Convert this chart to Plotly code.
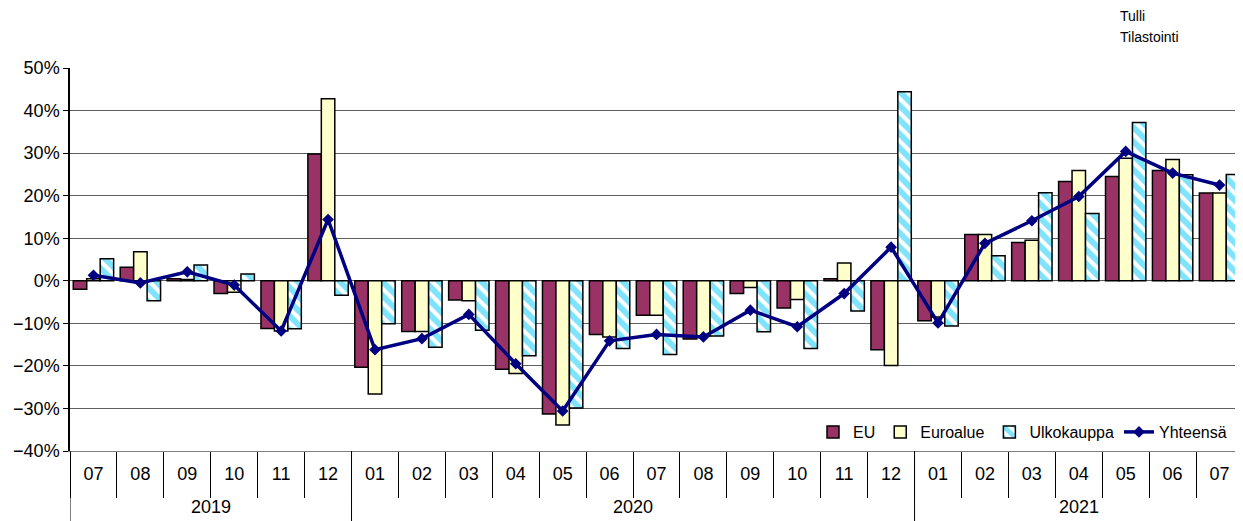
import plotly.graph_objects as go

years = ["2019"] * 6 + ["2020"] * 12 + ["2021"] * 7
months = ["07", "08", "09", "10", "11", "12",
          "01", "02", "03", "04", "05", "06", "07", "08", "09", "10", "11", "12",
          "01", "02", "03", "04", "05", "06", "07"]

eu = [-2.0, 3.2, 0.5, -3.0, -11.2, 29.8,
      -20.3, -11.9, -4.5, -20.8, -31.3, -12.6, -8.1, -13.7, -3.0, -6.4, 0.5, -16.2,
      -9.4, 10.9, 9.0, 23.3, 24.5, 25.9, 20.6]
euroalue = [0.5, 6.8, 0.3, -2.7, -11.8, 42.8,
            -26.6, -11.9, -4.7, -21.8, -33.9, -13.2, -8.1, -13.0, -1.6, -4.4, 4.2, -19.9,
            -8.5, 10.9, 9.5, 25.9, 28.8, 28.5, 20.6]
ulkokauppa = [5.2, -4.7, 3.7, 1.6, -11.3, -3.4,
              -10.1, -15.6, -11.6, -17.6, -29.9, -15.9, -17.3, -13.0, -12.0, -15.9, -7.1, 44.4,
              -10.6, 5.9, 20.7, 15.8, 37.2, 24.9, 25.0]
yhteensa = [1.3, -0.5, 2.1, -1.0, -11.8, 14.4,
            -16.2, -13.6, -7.9, -19.5, -30.6, -14.1, -12.6, -13.2, -6.9, -10.8, -3.0, 7.9,
            -9.9, 8.8, 14.1, 19.8, 30.4, 25.3, 22.5]

idx = list(range(len(months)))
outline = dict(color="black", width=1.5)
FONT = "Arial, 'Liberation Sans', sans-serif"

fig = go.Figure()
fig.add_trace(go.Bar(x=idx, y=eu, name="EU", marker=dict(color="#993366", line=outline)))
fig.add_trace(go.Bar(x=idx, y=euroalue, name="Euroalue", marker=dict(color="#FFFFCC", line=outline)))
fig.add_trace(go.Bar(x=idx, y=ulkokauppa, name="Ulkokauppa",
                     marker=dict(color="white", line=outline,
                                 pattern=dict(shape="\\", fgcolor="#00C8F8", bgcolor="white",
                                              size=10, solidity=0.6, fillmode="overlay"))))
fig.add_trace(go.Scatter(x=idx, y=yhteensa, name="Yhteensä", mode="lines+markers",
                         line=dict(color="#000080", width=3.5),
                         marker=dict(symbol="diamond", size=9, color="#000080")))

# year group labels and dividers, derived from the years list
shapes = []
annotations = []
groups = []
start = 0
for i in range(1, len(years) + 1):
    if i == len(years) or years[i] != years[start]:
        groups.append((years[start], start, i - 1))
        start = i
for yr, a, b in groups:
    annotations.append(dict(text=yr, xref="x", yref="paper", x=(a + b) / 2, y=-0.145,
                            yanchor="middle", showarrow=False, font=dict(size=18)))
    shapes.append(dict(type="line", xref="x", yref="paper", x0=a - 0.5, x1=a - 0.5,
                       y0=0, y1=-0.2, line=dict(color="black", width=1)))

annotations.append(dict(text="Tulli", xref="paper", yref="paper",
                        x=(1118 - 70) / 1173, y=(451 - 16) / 383, xanchor="left",
                        yanchor="middle", showarrow=False, align="left", font=dict(size=14)))
annotations.append(dict(text="Tilastointi", xref="paper", yref="paper",
                        x=(1118 - 70) / 1173, y=(451 - 37) / 383, xanchor="left",
                        yanchor="middle", showarrow=False, align="left", font=dict(size=14)))

fig.update_layout(
    width=1235, height=513,
    margin=dict(l=62, r=0, t=60, b=70),
    plot_bgcolor="white", paper_bgcolor="white",
    font=dict(family=FONT, size=18, color="black"),
    barmode="group", bargap=0.14, bargroupgap=0,
    showlegend=True,
    legend=dict(orientation="h", x=(1232 - 70) / 1173, xanchor="right",
                y=(451 - 432) / 383, yanchor="middle",
                bgcolor="rgba(0,0,0,0)", font=dict(size=16), traceorder="normal"),
    shapes=shapes,
    annotations=annotations,
)
fig.update_yaxes(range=[-40, 50], dtick=10, ticksuffix="%", showgrid=True,
                 gridcolor="#606060", gridwidth=1, zeroline=False,
                 showline=True, linecolor="black", linewidth=1.5,
                 ticks="outside", ticklen=5, tickcolor="black")
fig.update_xaxes(range=[-0.5, len(months) - 0.5], tickmode="array", tickvals=idx,
                 ticktext=months, ticks="", showgrid=False, zeroline=False,
                 showline=True, linecolor="#808080", linewidth=1,
                 minor=dict(ticks="outside", tick0=0.5, dtick=1, ticklen=46,
                            tickcolor="black", tickwidth=1, showgrid=False),
                 ticklabelstandoff=6)

fig.write_html("out.html")
